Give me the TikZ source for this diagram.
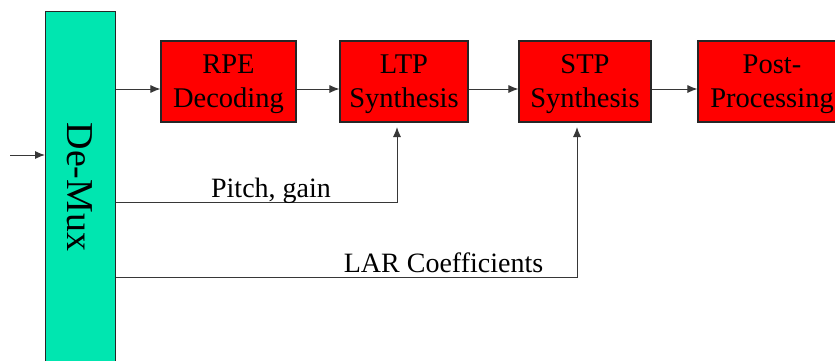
\documentclass[tikz,border=0pt]{standalone}
\usepackage{fontspec}
\newfontfamily\diagfont{Liberation Serif}
\usetikzlibrary{arrows.meta,calc}
\definecolor{muxgreen}{RGB}{0,230,176}
\definecolor{wire}{RGB}{55,55,55}
\tikzset{
  block/.style={draw=black!85, line width=1.1pt, fill=red, inner sep=0pt,
    minimum height=81pt},
  blocktext/.style={align=center, inner sep=0pt,
    font=\diagfont\fontsize{28.5}{34}\selectfont},
  wirearrow/.style={draw=wire, line width=1pt, -{Latex[length=10pt,width=8pt]}},
  tag/.style={font=\diagfont\fontsize{28}{34}\selectfont, inner sep=0pt, anchor=base}
}
\begin{document}
\begin{tikzpicture}[x=1pt,y=1pt]
\useasboundingbox (0,0) rectangle (835,-360);
\clip (0,0) rectangle (835,-360);
\fill[white] (0,0) rectangle (835,-360);

% demultiplexer bar, running past the lower edge
\node[draw=black!85, line width=1.1pt, fill=muxgreen, inner sep=0pt,
      minimum width=70pt, minimum height=370pt, anchor=north west] (demux) at (45,-11) {};
\node[font=\diagfont\fontsize{38}{42}\selectfont, rotate=-90, inner sep=0pt] (muxtext) at (80,-187) {De-Mux};

% decoder chain
\node[block, minimum width=135pt] (rpe)  at (228.5,-81.5) {};
\node[block, minimum width=128pt] (ltp)  at (404,-81.5)   {};
\node[block, minimum width=132pt] (stp)  at (585,-81.5)   {};
\node[block, minimum width=148pt] (post) at (772,-81.5)   {};
\node[blocktext] (rpetext)  at ([yshift=-3pt]rpe.center)  {RPE\\Decoding};
\node[blocktext] (ltptext)  at ([yshift=-3pt]ltp.center)  {LTP\\Synthesis};
\node[blocktext] (stptext)  at ([yshift=-3pt]stp.center)  {STP\\Synthesis};
\node[blocktext] (posttext) at ([yshift=-3pt]post.center) {Post-\\Processing};

\coordinate (flow) at (0,-89);
\coordinate (src) at (10,-155);
\coordinate (pitchrow) at (0,-202);
\coordinate (larrow) at (0,-277);
\coordinate (ltpfoot) at (397,-122);
\coordinate (stpfoot) at (577,-122);

% input and forward path
\draw[wirearrow] (src) -- (demux.west |- src);
\draw[wirearrow] (demux.east |- flow) -- (rpe.west |- flow);
\draw[wirearrow] (rpe.east |- flow) -- (ltp.west |- flow);
\draw[wirearrow] (ltp.east |- flow) -- (stp.west |- flow);
\draw[wirearrow] (stp.east |- flow) -- (post.west |- flow);

% side information paths
\draw[wirearrow, shorten >=5pt] (demux.east |- pitchrow) -| (ltpfoot);
\draw[wirearrow, shorten >=5pt] (demux.east |- larrow) -| (stpfoot);

\node[tag] (pitchlbl) at (271,-197) {Pitch, gain};
\node[tag] (larlbl) at (443.5,-272) {LAR Coefficients};
\end{tikzpicture}
\end{document}
